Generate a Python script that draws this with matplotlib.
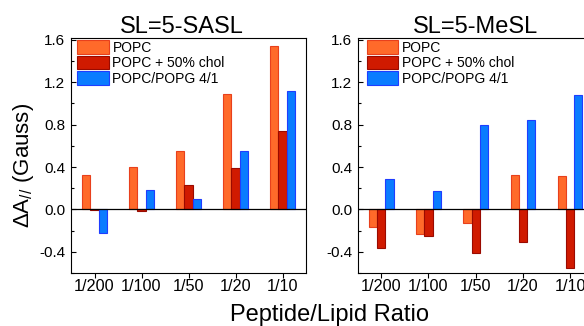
import matplotlib
matplotlib.use('Agg')
import matplotlib.pyplot as plt
import numpy as np

plt.rcParams['font.family'] = ['Liberation Sans', 'DejaVu Sans']
plt.rcParams['mathtext.fontset'] = 'custom'
plt.rcParams['mathtext.rm'] = 'Liberation Sans'
plt.rcParams['mathtext.it'] = 'Liberation Sans:italic'
plt.rcParams['mathtext.bf'] = 'Liberation Sans:bold'

categories = ['1/200', '1/100', '1/50', '1/20', '1/10']
series_names = ['POPC', 'POPC + 50% chol', 'POPC/POPG 4/1']
sasl_popc = [0.325, 0.397, 0.553, 1.09, 1.544]
sasl_chol = [-0.01, -0.015, 0.228, 0.394, 0.744]
sasl_popg = [-0.225, 0.184, 0.094, 0.553, 1.119]
mesl_popc = [-0.166, -0.228, -0.125, 0.328, 0.319]
mesl_chol = [-0.366, -0.253, -0.413, -0.303, -0.556]
mesl_popg = [0.29, 0.169, 0.797, 0.84, 1.078]
titles = ['SL=5-SASL', 'SL=5-MeSL']
yticks = [-0.4, 0.0, 0.4, 0.8, 1.2, 1.6]

fills = ['#FF6A2A', '#D01A00', '#0A7CFF']
edges = ['#E8401C', '#9A0A00', '#1F3DFF']

fig = plt.figure(figsize=(5.84, 3.26), dpi=100)
ax1 = fig.add_axes([71/584, 53/326, 235/584, 235.3/326])
ax2 = fig.add_axes([357.7/584, 53/326, 236/584, 235.3/326])

panels = [(ax1, [sasl_popc, sasl_chol, sasl_popg]),
          (ax2, [mesl_popc, mesl_chol, mesl_popg])]

x = np.arange(len(categories))
w = 0.175
for i, (ax, series) in enumerate(panels):
    for j, vals in enumerate(series):
        ax.bar(x + (j - 1) * w, vals, width=w, color=fills[j],
               edgecolor=edges[j], linewidth=0.8, label=series_names[j], zorder=2)
    ax.axhline(0, color='black', linewidth=0.9, zorder=3)
    ax.set_xlim(-0.5, 4.5)
    ax.set_ylim(-0.6, 1.62)
    ax.set_xticks(x)
    ax.set_xticklabels(categories, fontsize=11.7)
    ax.set_yticks(yticks)
    ax.set_yticklabels([f'{v:.1f}' for v in yticks], fontsize=11)
    ax.set_yticks(np.arange(-0.6, 1.61, 0.2), minor=True)
    ax.tick_params(axis='y', which='major', direction='in', length=3.5, width=0.8, pad=4)
    ax.tick_params(axis='y', which='minor', direction='in', length=2, width=0.8)
    ax.tick_params(axis='x', which='major', direction='out', length=3.4, width=0.8, pad=1)
    ax.tick_params(axis='x', which='minor', bottom=False)
    for s in ax.spines.values():
        s.set_linewidth(0.8)
    anchor_x = 0.027 if i == 0 else 0.038
    ax.legend(loc='upper left', bbox_to_anchor=(anchor_x, 0.99), frameon=False,
              fontsize=10, handlelength=2.28, handleheight=1.15, labelspacing=0.07,
              handletextpad=0.25, borderpad=0, borderaxespad=0)

ax1.set_title(titles[0], fontsize=17, pad=3.5, x=0.472)
ax2.set_title(titles[1], fontsize=17, pad=3.5)

fig.text(24/584, 1 - 165/326, r'$\mathregular{\Delta A_{//}}$ (Gauss)', rotation=90,
         ha='center', va='center', fontsize=16)
fig.text(330/584, 1 - 315/326, 'Peptide/Lipid Ratio', ha='center', va='center', fontsize=17)

fig.savefig('out.png', dpi=100)
